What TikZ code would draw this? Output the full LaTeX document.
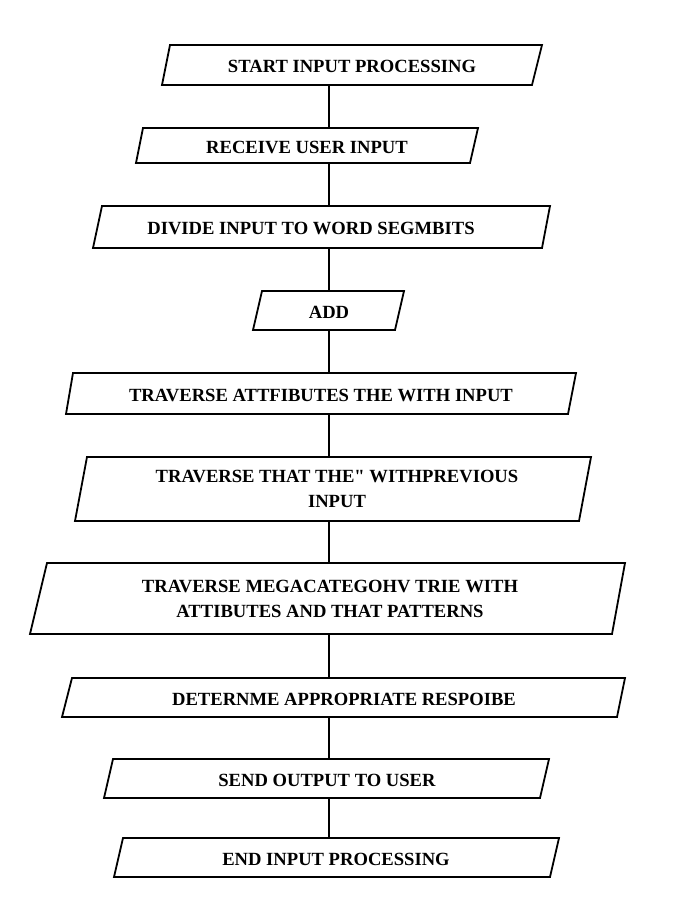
\documentclass[tikz,border=0pt]{standalone}
\usepackage{fontspec}
\setmainfont{Liberation Serif}
\tikzset{
  box/.style={draw=none, minimum height=#1, inner sep=0pt, align=center,
    font=\bfseries\fontsize{18.6}{25}\selectfont},
  oneline/.style={text height=15.5pt, text depth=0pt},
  frame/.style={line width=1.8pt, line join=miter},
  link/.style={line width=1.5pt}
}
\begin{document}
\begin{tikzpicture}[x=1pt,y=-1pt]
\useasboundingbox[fill=white] (0,0) rectangle (683,897);
\coordinate (spine) at (329,0);
% boxes
\draw[frame] (170,45) -- (542,45) -- (532,85) -- (162,85) -- cycle;
\node[box=40pt,oneline] (n1) at (352,65) {START INPUT PROCESSING};
\draw[frame] (143,128) -- (478,128) -- (470,163) -- (136,163) -- cycle;
\node[box=35pt,oneline] (n2) at (307,145.5) {RECEIVE USER INPUT};
\draw[frame] (102,206) -- (550,206) -- (542,248) -- (93,248) -- cycle;
\node[box=42pt,oneline] (n3) at (311,227) {DIVIDE INPUT TO WORD SEGMBITS};
\draw[frame] (262,291) -- (404,291) -- (395,330) -- (253,330) -- cycle;
\node[box=39pt,oneline] (n4) at (329,310.5) {ADD};
\draw[frame] (73,373) -- (576,373) -- (568,414) -- (66,414) -- cycle;
\node[box=41pt,oneline] (n5) at (321,393.5) {TRAVERSE ATTFIBUTES THE WITH INPUT};
\draw[frame] (87,457) -- (591,457) -- (579,521) -- (75,521) -- cycle;
\node[box=64pt] (n6) at (337,489) {TRAVERSE THAT THE\textquotedbl{} WITHPREVIOUS\\INPUT};
\draw[frame] (47,563) -- (625,563) -- (612,634) -- (30,634) -- cycle;
\node[box=71pt] (n7) at (330,598.5) {TRAVERSE MEGACATEGOHV TRIE WITH\\ATTIBUTES AND THAT PATTERNS};
\draw[frame] (72,678) -- (625,678) -- (617,717) -- (62,717) -- cycle;
\node[box=39pt,oneline] (n8) at (344,697.5) {DETERNME APPROPRIATE RESPOIBE};
\draw[frame] (113,759) -- (549,759) -- (540,798) -- (104,798) -- cycle;
\node[box=39pt,oneline] (n9) at (327,778.5) {SEND OUTPUT TO USER};
\draw[frame] (123,838) -- (559,838) -- (550,877) -- (114,877) -- cycle;
\node[box=39pt,oneline] (n10) at (336,857.5) {END INPUT PROCESSING};
% connectors
\foreach \a/\b in {n1/n2,n2/n3,n3/n4,n4/n5,n5/n6,n6/n7,n7/n8,n8/n9,n9/n10}
  \draw[link] (\a.south -| spine) -- (\b.north -| spine);
\end{tikzpicture}
\end{document}
